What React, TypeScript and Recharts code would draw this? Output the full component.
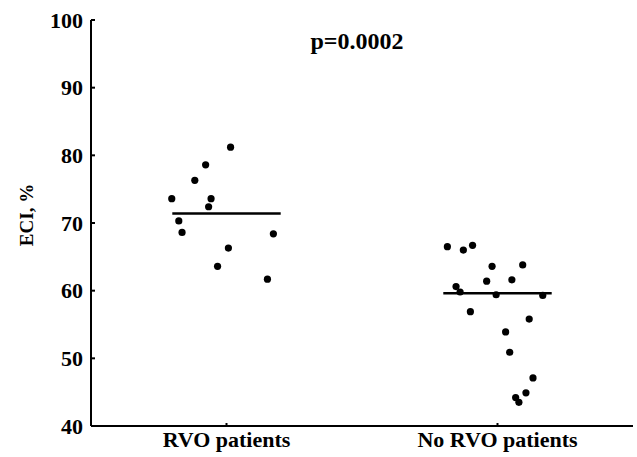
// ECI scatter: RVO vs no RVO patients
import { ScatterChart, Scatter, XAxis, YAxis, ReferenceLine, Label } from 'recharts';

const categories = ['RVO patients', 'No RVO patients'];
const yTicks = [40, 50, 60, 70, 80, 90, 100];

// jittered x positions (1 = RVO, 2 = No RVO) and ECI values
const rvoX = [1.015, 0.923, 0.883, 0.798, 0.943, 0.934, 0.824, 0.836, 1.173, 1.007, 0.967, 1.151];
const rvoEci = [81.2, 78.6, 76.3, 73.6, 73.6, 72.4, 70.3, 68.6, 68.4, 66.3, 63.6, 61.7];
const noRvoX = [
  1.815, 1.874, 1.908, 1.98, 2.093, 1.96, 2.053, 1.847, 1.862, 1.995, 2.167, 1.9, 2.117, 2.03, 2.045,
  2.131, 2.105, 2.067, 2.079,
];
const noRvoEci = [
  66.5, 66.0, 66.7, 63.6, 63.8, 61.4, 61.6, 60.6, 59.8, 59.4, 59.3, 56.9, 55.8, 53.9, 50.9, 47.1, 44.9,
  44.2, 43.5,
];
const groupLines = [71.4, 59.6];
const pValue = 'p=0.0002';

const font = '"Liberation Serif", "Times New Roman", serif';

const rvoData = rvoX.map((x, i) => ({ x, y: rvoEci[i] }));
const noRvoData = noRvoX.map((x, i) => ({ x, y: noRvoEci[i] }));

const Dot = (props: any) => <circle cx={props.cx} cy={props.cy} r={3.6} fill="#000" />;

const YTick = ({ x, y, payload }: any) => (
  <g>
    <line x1={x} y1={y} x2={x + 4} y2={y} stroke="#000" strokeWidth={2} />
    <text x={x - 8} y={y} dy="0.35em" textAnchor="end" fontFamily={font} fontWeight="bold" fontSize={22} fill="#000">
      {payload.value}
    </text>
  </g>
);

const XTick = ({ x, y, payload }: any) => (
  <g>
    <line x1={x} y1={y} x2={x} y2={y - 3} stroke="#000" strokeWidth={2} />
    <text x={x} y={y + 21} textAnchor="middle" fontFamily={font} fontWeight="bold" fontSize={22} fill="#000">
      {categories[payload.value - 1]}
    </text>
  </g>
);

// y-axis title, sits a little above the plot's middle like the original
const YTitle = () => (
  <text
    x={26}
    y={215}
    dy="0.35em"
    transform="rotate(-90 26 215)"
    textAnchor="middle"
    fontFamily={font}
    fontWeight="bold"
    fontSize={19}
    fill="#000"
  >
    ECI, %
  </text>
);

export default function App() {
  return (
    <div style={{ position: 'absolute', left: 0, top: 0, width: 637, height: 457, background: '#fff' }}>
      <ScatterChart width={637} height={457} margin={{ top: 20, right: 4, bottom: 0, left: 0 }}>
        <XAxis
          type="number"
          dataKey="x"
          domain={[0.5, 2.5]}
          ticks={[1, 2]}
          height={31}
          tickSize={0}
          tickMargin={0}
          tickLine={false}
          tick={<XTick />}
          axisLine={{ stroke: '#000', strokeWidth: 2 }}
        />
        <YAxis
          type="number"
          dataKey="y"
          domain={[40, 100]}
          ticks={yTicks}
          width={91}
          tickSize={0}
          tickMargin={0}
          tickLine={false}
          tick={<YTick />}
          axisLine={{ stroke: '#000', strokeWidth: 2 }}
        >
          <Label content={<YTitle />} />
        </YAxis>
        <ReferenceLine
          segment={[{ x: 0.8, y: groupLines[0] }, { x: 1.2, y: groupLines[0] }]}
          stroke="#000"
          strokeWidth={2.5}
        />
        <ReferenceLine
          segment={[{ x: 1.8, y: groupLines[1] }, { x: 2.2, y: groupLines[1] }]}
          stroke="#000"
          strokeWidth={2.5}
        />
        <Scatter data={rvoData} shape={<Dot />} isAnimationActive={false} />
        <Scatter data={noRvoData} shape={<Dot />} isAnimationActive={false} />
      </ScatterChart>
      <div
        style={{
          position: 'absolute',
          left: 257,
          width: 200,
          top: 26,
          textAlign: 'center',
          fontFamily: font,
          fontWeight: 'bold',
          fontSize: 24,
          lineHeight: '30px',
          color: '#000',
        }}
      >
        {pValue}
      </div>
    </div>
  );
}
